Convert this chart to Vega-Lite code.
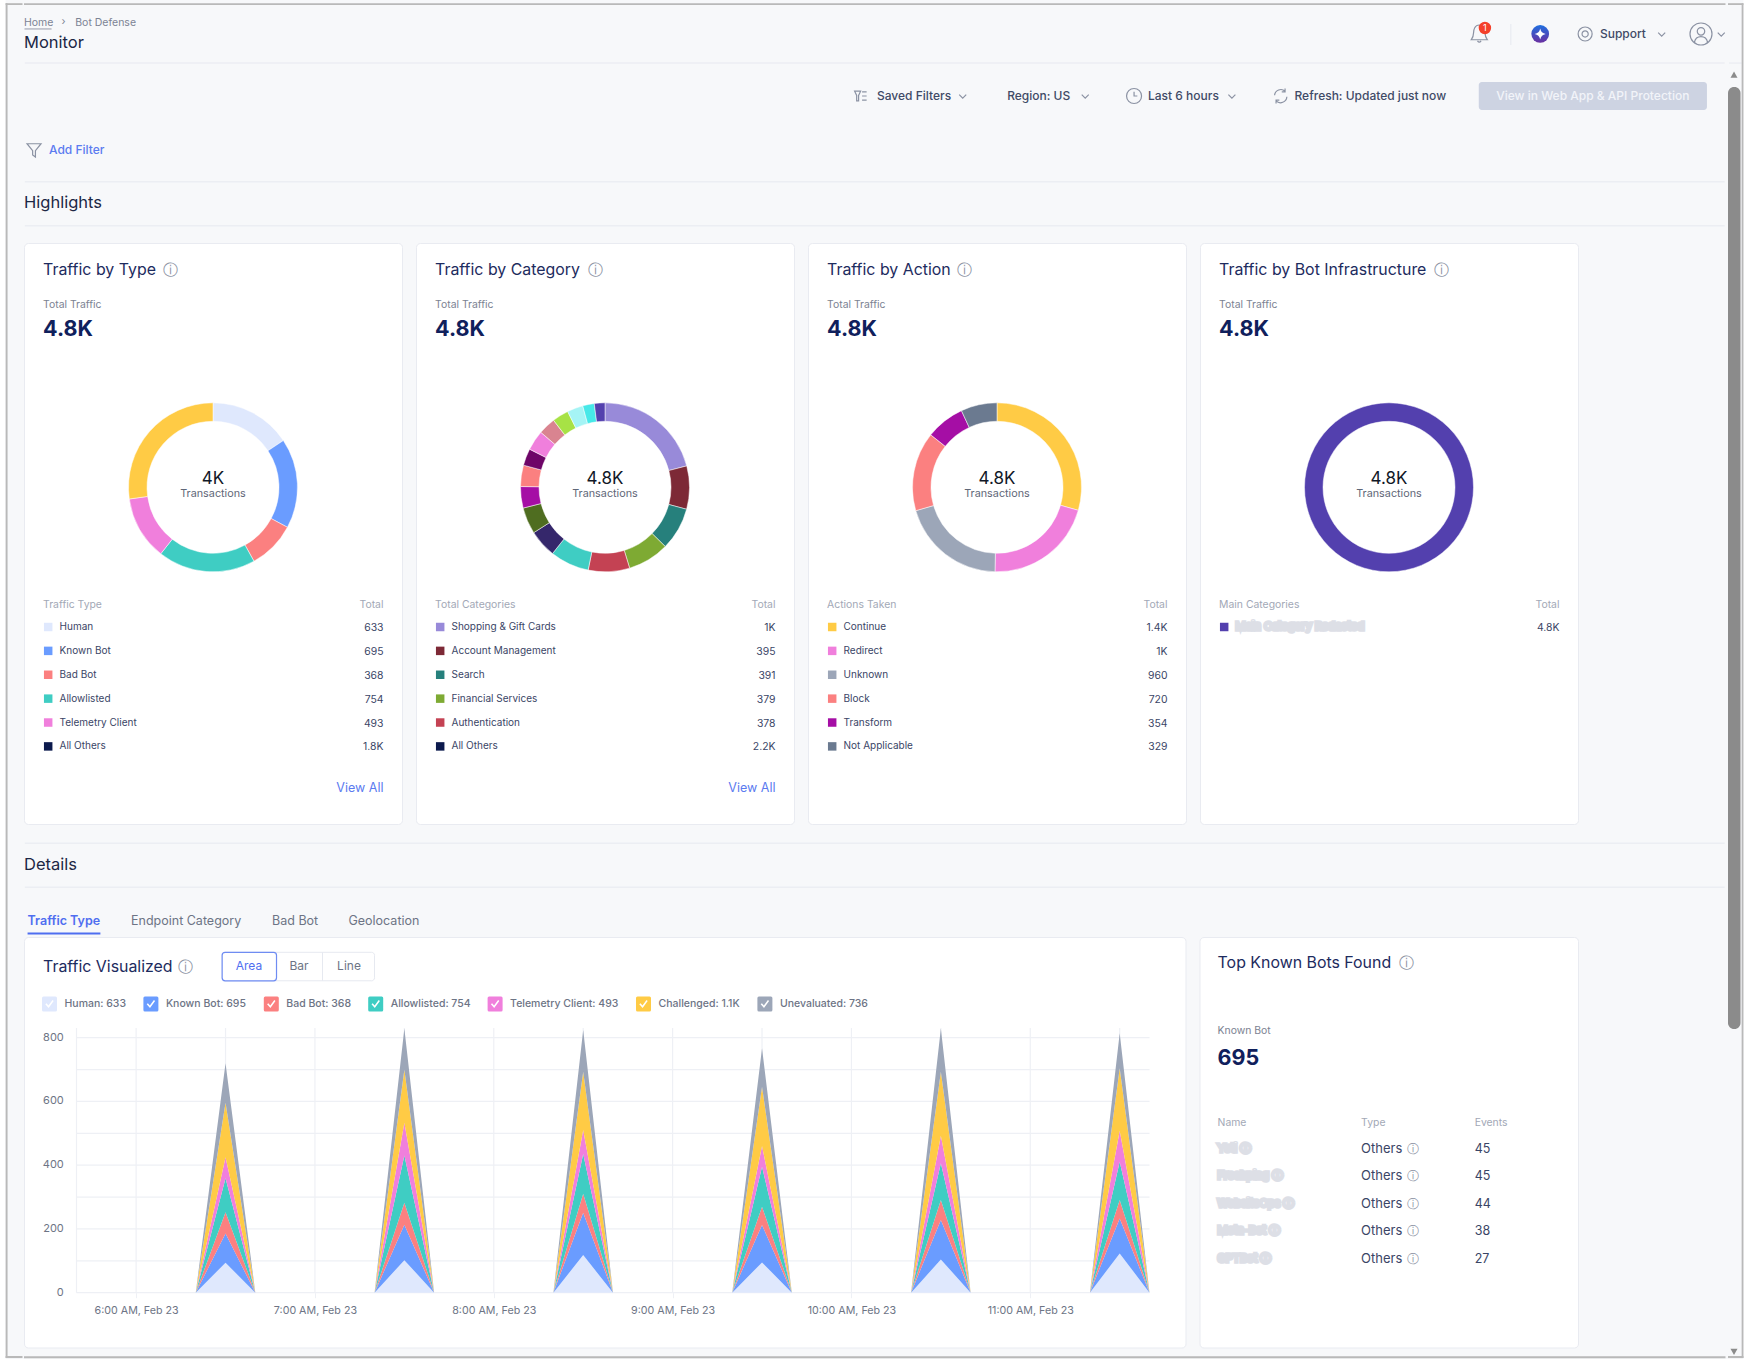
{
"$schema":"https://vega.github.io/schema/vega-lite/v6.json",
"background":"#f7f8fa","padding":0,"autosize":{"type":"pad"},
"datasets":{
"one":[{"page":"Bot Defense Monitor"}],
"cards":[
{"card":"Traffic by Type","part":"head","count":"4.8K","center":"4K","group":"Traffic Type","more":"View All"},
{"card":"Traffic by Category","part":"head","count":"4.8K","center":"4.8K","group":"Total Categories","more":"View All"},
{"card":"Traffic by Action","part":"head","count":"4.8K","center":"4.8K","group":"Actions Taken","more":""},
{"card":"Traffic by Bot Infrastructure","part":"head","count":"4.8K","center":"4.8K","group":"Main Categories","more":""},
{"card":"Traffic by Type","part":"slice","name":"Human","value":633,"k":1},
{"card":"Traffic by Type","part":"slice","name":"Known Bot","value":695,"k":2},
{"card":"Traffic by Type","part":"slice","name":"Bad Bot","value":368,"k":3},
{"card":"Traffic by Type","part":"slice","name":"Allowlisted","value":754,"k":4},
{"card":"Traffic by Type","part":"slice","name":"Telemetry Client","value":493,"k":5},
{"card":"Traffic by Type","part":"slice","name":"Challenged","value":1100,"k":6},
{"card":"Traffic by Category","part":"slice","name":"Shopping & Gift Cards","value":1000,"k":1},
{"card":"Traffic by Category","part":"slice","name":"Account Management","value":395,"k":2},
{"card":"Traffic by Category","part":"slice","name":"Search","value":391,"k":3},
{"card":"Traffic by Category","part":"slice","name":"Financial Services","value":379,"k":4},
{"card":"Traffic by Category","part":"slice","name":"Authentication","value":378,"k":5},
{"card":"Traffic by Category","part":"slice","name":"Category 6","value":357,"k":6},
{"card":"Traffic by Category","part":"slice","name":"Category 7","value":254,"k":7},
{"card":"Traffic by Category","part":"slice","name":"Category 8","value":242,"k":8},
{"card":"Traffic by Category","part":"slice","name":"Category 9","value":196,"k":9},
{"card":"Traffic by Category","part":"slice","name":"Category 10","value":195,"k":10},
{"card":"Traffic by Category","part":"slice","name":"Category 11","value":154,"k":11},
{"card":"Traffic by Category","part":"slice","name":"Category 12","value":183,"k":12},
{"card":"Traffic by Category","part":"slice","name":"Category 13","value":158,"k":13},
{"card":"Traffic by Category","part":"slice","name":"Category 14","value":150,"k":14},
{"card":"Traffic by Category","part":"slice","name":"Category 15","value":145,"k":15},
{"card":"Traffic by Category","part":"slice","name":"Category 16","value":106,"k":16},
{"card":"Traffic by Category","part":"slice","name":"Category 17","value":97,"k":17},
{"card":"Traffic by Action","part":"slice","name":"Continue","value":1400,"k":1},
{"card":"Traffic by Action","part":"slice","name":"Redirect","value":1000,"k":2},
{"card":"Traffic by Action","part":"slice","name":"Unknown","value":960,"k":3},
{"card":"Traffic by Action","part":"slice","name":"Block","value":720,"k":4},
{"card":"Traffic by Action","part":"slice","name":"Transform","value":354,"k":5},
{"card":"Traffic by Action","part":"slice","name":"Not Applicable","value":329,"k":6},
{"card":"Traffic by Bot Infrastructure","part":"slice","name":"Main Category Redacted","value":4800,"k":1},
{"card":"Traffic by Type","part":"row","name":"Human","total":"633","rank":1},
{"card":"Traffic by Type","part":"row","name":"Known Bot","total":"695","rank":2},
{"card":"Traffic by Type","part":"row","name":"Bad Bot","total":"368","rank":3},
{"card":"Traffic by Type","part":"row","name":"Allowlisted","total":"754","rank":4},
{"card":"Traffic by Type","part":"row","name":"Telemetry Client","total":"493","rank":5},
{"card":"Traffic by Type","part":"row","name":"All Others","total":"1.8K","rank":6},
{"card":"Traffic by Category","part":"row","name":"Shopping & Gift Cards","total":"1K","rank":1},
{"card":"Traffic by Category","part":"row","name":"Account Management","total":"395","rank":2},
{"card":"Traffic by Category","part":"row","name":"Search","total":"391","rank":3},
{"card":"Traffic by Category","part":"row","name":"Financial Services","total":"379","rank":4},
{"card":"Traffic by Category","part":"row","name":"Authentication","total":"378","rank":5},
{"card":"Traffic by Category","part":"row","name":"All Others","total":"2.2K","rank":6},
{"card":"Traffic by Action","part":"row","name":"Continue","total":"1.4K","rank":1},
{"card":"Traffic by Action","part":"row","name":"Redirect","total":"1K","rank":2},
{"card":"Traffic by Action","part":"row","name":"Unknown","total":"960","rank":3},
{"card":"Traffic by Action","part":"row","name":"Block","total":"720","rank":4},
{"card":"Traffic by Action","part":"row","name":"Transform","total":"354","rank":5},
{"card":"Traffic by Action","part":"row","name":"Not Applicable","total":"329","rank":6},
{"card":"Traffic by Bot Infrastructure","part":"row","name":"Main Category Redacted","total":"4.8K","rank":1}
],
"traffic":[
{"t":"2024-02-23T06:20:00","s":"Human","k":1,"v":0},{"t":"2024-02-23T06:30:00","s":"Human","k":1,"v":94},{"t":"2024-02-23T06:40:00","s":"Human","k":1,"v":0},
{"t":"2024-02-23T07:20:00","s":"Human","k":1,"v":0},{"t":"2024-02-23T07:30:00","s":"Human","k":1,"v":102},{"t":"2024-02-23T07:40:00","s":"Human","k":1,"v":0},
{"t":"2024-02-23T08:20:00","s":"Human","k":1,"v":0},{"t":"2024-02-23T08:30:00","s":"Human","k":1,"v":118},{"t":"2024-02-23T08:40:00","s":"Human","k":1,"v":0},
{"t":"2024-02-23T09:20:00","s":"Human","k":1,"v":0},{"t":"2024-02-23T09:30:00","s":"Human","k":1,"v":95},{"t":"2024-02-23T09:40:00","s":"Human","k":1,"v":0},
{"t":"2024-02-23T10:20:00","s":"Human","k":1,"v":0},{"t":"2024-02-23T10:30:00","s":"Human","k":1,"v":104},{"t":"2024-02-23T10:40:00","s":"Human","k":1,"v":0},
{"t":"2024-02-23T11:20:00","s":"Human","k":1,"v":0},{"t":"2024-02-23T11:30:00","s":"Human","k":1,"v":123},{"t":"2024-02-23T11:40:00","s":"Human","k":1,"v":0},
{"t":"2024-02-23T06:20:00","s":"Known Bot","k":2,"v":0},{"t":"2024-02-23T06:30:00","s":"Known Bot","k":2,"v":92},{"t":"2024-02-23T06:40:00","s":"Known Bot","k":2,"v":0},
{"t":"2024-02-23T07:20:00","s":"Known Bot","k":2,"v":0},{"t":"2024-02-23T07:30:00","s":"Known Bot","k":2,"v":111},{"t":"2024-02-23T07:40:00","s":"Known Bot","k":2,"v":0},
{"t":"2024-02-23T08:20:00","s":"Known Bot","k":2,"v":0},{"t":"2024-02-23T08:30:00","s":"Known Bot","k":2,"v":133},{"t":"2024-02-23T08:40:00","s":"Known Bot","k":2,"v":0},
{"t":"2024-02-23T09:20:00","s":"Known Bot","k":2,"v":0},{"t":"2024-02-23T09:30:00","s":"Known Bot","k":2,"v":117},{"t":"2024-02-23T09:40:00","s":"Known Bot","k":2,"v":0},
{"t":"2024-02-23T10:20:00","s":"Known Bot","k":2,"v":0},{"t":"2024-02-23T10:30:00","s":"Known Bot","k":2,"v":124},{"t":"2024-02-23T10:40:00","s":"Known Bot","k":2,"v":0},
{"t":"2024-02-23T11:20:00","s":"Known Bot","k":2,"v":0},{"t":"2024-02-23T11:30:00","s":"Known Bot","k":2,"v":110},{"t":"2024-02-23T11:40:00","s":"Known Bot","k":2,"v":0},
{"t":"2024-02-23T06:20:00","s":"Bad Bot","k":3,"v":0},{"t":"2024-02-23T06:30:00","s":"Bad Bot","k":3,"v":66},{"t":"2024-02-23T06:40:00","s":"Bad Bot","k":3,"v":0},
{"t":"2024-02-23T07:20:00","s":"Bad Bot","k":3,"v":0},{"t":"2024-02-23T07:30:00","s":"Bad Bot","k":3,"v":69},{"t":"2024-02-23T07:40:00","s":"Bad Bot","k":3,"v":0},
{"t":"2024-02-23T08:20:00","s":"Bad Bot","k":3,"v":0},{"t":"2024-02-23T08:30:00","s":"Bad Bot","k":3,"v":59},{"t":"2024-02-23T08:40:00","s":"Bad Bot","k":3,"v":0},
{"t":"2024-02-23T09:20:00","s":"Bad Bot","k":3,"v":0},{"t":"2024-02-23T09:30:00","s":"Bad Bot","k":3,"v":58},{"t":"2024-02-23T09:40:00","s":"Bad Bot","k":3,"v":0},
{"t":"2024-02-23T10:20:00","s":"Bad Bot","k":3,"v":0},{"t":"2024-02-23T10:30:00","s":"Bad Bot","k":3,"v":63},{"t":"2024-02-23T10:40:00","s":"Bad Bot","k":3,"v":0},
{"t":"2024-02-23T11:20:00","s":"Bad Bot","k":3,"v":0},{"t":"2024-02-23T11:30:00","s":"Bad Bot","k":3,"v":58},{"t":"2024-02-23T11:40:00","s":"Bad Bot","k":3,"v":0},
{"t":"2024-02-23T06:20:00","s":"Allowlisted","k":4,"v":0},{"t":"2024-02-23T06:30:00","s":"Allowlisted","k":4,"v":107},{"t":"2024-02-23T06:40:00","s":"Allowlisted","k":4,"v":0},
{"t":"2024-02-23T07:20:00","s":"Allowlisted","k":4,"v":0},{"t":"2024-02-23T07:30:00","s":"Allowlisted","k":4,"v":148},{"t":"2024-02-23T07:40:00","s":"Allowlisted","k":4,"v":0},
{"t":"2024-02-23T08:20:00","s":"Allowlisted","k":4,"v":0},{"t":"2024-02-23T08:30:00","s":"Allowlisted","k":4,"v":125},{"t":"2024-02-23T08:40:00","s":"Allowlisted","k":4,"v":0},
{"t":"2024-02-23T09:20:00","s":"Allowlisted","k":4,"v":0},{"t":"2024-02-23T09:30:00","s":"Allowlisted","k":4,"v":125},{"t":"2024-02-23T09:40:00","s":"Allowlisted","k":4,"v":0},
{"t":"2024-02-23T10:20:00","s":"Allowlisted","k":4,"v":0},{"t":"2024-02-23T10:30:00","s":"Allowlisted","k":4,"v":115},{"t":"2024-02-23T10:40:00","s":"Allowlisted","k":4,"v":0},
{"t":"2024-02-23T11:20:00","s":"Allowlisted","k":4,"v":0},{"t":"2024-02-23T11:30:00","s":"Allowlisted","k":4,"v":120},{"t":"2024-02-23T11:40:00","s":"Allowlisted","k":4,"v":0},
{"t":"2024-02-23T06:20:00","s":"Telemetry Client","k":5,"v":0},{"t":"2024-02-23T06:30:00","s":"Telemetry Client","k":5,"v":66},{"t":"2024-02-23T06:40:00","s":"Telemetry Client","k":5,"v":0},
{"t":"2024-02-23T07:20:00","s":"Telemetry Client","k":5,"v":0},{"t":"2024-02-23T07:30:00","s":"Telemetry Client","k":5,"v":103},{"t":"2024-02-23T07:40:00","s":"Telemetry Client","k":5,"v":0},
{"t":"2024-02-23T08:20:00","s":"Telemetry Client","k":5,"v":0},{"t":"2024-02-23T08:30:00","s":"Telemetry Client","k":5,"v":75},{"t":"2024-02-23T08:40:00","s":"Telemetry Client","k":5,"v":0},
{"t":"2024-02-23T09:20:00","s":"Telemetry Client","k":5,"v":0},{"t":"2024-02-23T09:30:00","s":"Telemetry Client","k":5,"v":65},{"t":"2024-02-23T09:40:00","s":"Telemetry Client","k":5,"v":0},
{"t":"2024-02-23T10:20:00","s":"Telemetry Client","k":5,"v":0},{"t":"2024-02-23T10:30:00","s":"Telemetry Client","k":5,"v":86},{"t":"2024-02-23T10:40:00","s":"Telemetry Client","k":5,"v":0},
{"t":"2024-02-23T11:20:00","s":"Telemetry Client","k":5,"v":0},{"t":"2024-02-23T11:30:00","s":"Telemetry Client","k":5,"v":97},{"t":"2024-02-23T11:40:00","s":"Telemetry Client","k":5,"v":0},
{"t":"2024-02-23T06:20:00","s":"Challenged","k":6,"v":0},{"t":"2024-02-23T06:30:00","s":"Challenged","k":6,"v":171},{"t":"2024-02-23T06:40:00","s":"Challenged","k":6,"v":0},
{"t":"2024-02-23T07:20:00","s":"Challenged","k":6,"v":0},{"t":"2024-02-23T07:30:00","s":"Challenged","k":6,"v":166},{"t":"2024-02-23T07:40:00","s":"Challenged","k":6,"v":0},
{"t":"2024-02-23T08:20:00","s":"Challenged","k":6,"v":0},{"t":"2024-02-23T08:30:00","s":"Challenged","k":6,"v":183},{"t":"2024-02-23T08:40:00","s":"Challenged","k":6,"v":0},
{"t":"2024-02-23T09:20:00","s":"Challenged","k":6,"v":0},{"t":"2024-02-23T09:30:00","s":"Challenged","k":6,"v":186},{"t":"2024-02-23T09:40:00","s":"Challenged","k":6,"v":0},
{"t":"2024-02-23T10:20:00","s":"Challenged","k":6,"v":0},{"t":"2024-02-23T10:30:00","s":"Challenged","k":6,"v":201},{"t":"2024-02-23T10:40:00","s":"Challenged","k":6,"v":0},
{"t":"2024-02-23T11:20:00","s":"Challenged","k":6,"v":0},{"t":"2024-02-23T11:30:00","s":"Challenged","k":6,"v":196},{"t":"2024-02-23T11:40:00","s":"Challenged","k":6,"v":0},
{"t":"2024-02-23T06:20:00","s":"Unevaluated","k":7,"v":0},{"t":"2024-02-23T06:30:00","s":"Unevaluated","k":7,"v":124},{"t":"2024-02-23T06:40:00","s":"Unevaluated","k":7,"v":0},
{"t":"2024-02-23T07:20:00","s":"Unevaluated","k":7,"v":0},{"t":"2024-02-23T07:30:00","s":"Unevaluated","k":7,"v":130},{"t":"2024-02-23T07:40:00","s":"Unevaluated","k":7,"v":0},
{"t":"2024-02-23T08:20:00","s":"Unevaluated","k":7,"v":0},{"t":"2024-02-23T08:30:00","s":"Unevaluated","k":7,"v":131},{"t":"2024-02-23T08:40:00","s":"Unevaluated","k":7,"v":0},
{"t":"2024-02-23T09:20:00","s":"Unevaluated","k":7,"v":0},{"t":"2024-02-23T09:30:00","s":"Unevaluated","k":7,"v":121},{"t":"2024-02-23T09:40:00","s":"Unevaluated","k":7,"v":0},
{"t":"2024-02-23T10:20:00","s":"Unevaluated","k":7,"v":0},{"t":"2024-02-23T10:30:00","s":"Unevaluated","k":7,"v":136},{"t":"2024-02-23T10:40:00","s":"Unevaluated","k":7,"v":0},
{"t":"2024-02-23T11:20:00","s":"Unevaluated","k":7,"v":0},{"t":"2024-02-23T11:30:00","s":"Unevaluated","k":7,"v":110},{"t":"2024-02-23T11:40:00","s":"Unevaluated","k":7,"v":0}
],
"gridY":[{"g":0},{"g":100},{"g":200},{"g":300},{"g":400},{"g":500},{"g":600},{"g":700},{"g":800}],
"gridX":[{"t":"2024-02-23T05:40:00"},{"t":"2024-02-23T06:00:00"},{"t":"2024-02-23T06:30:00"},{"t":"2024-02-23T07:00:00"},{"t":"2024-02-23T07:30:00"},{"t":"2024-02-23T08:00:00"},{"t":"2024-02-23T08:30:00"},{"t":"2024-02-23T09:00:00"},{"t":"2024-02-23T09:30:00"},{"t":"2024-02-23T10:00:00"},{"t":"2024-02-23T10:30:00"},{"t":"2024-02-23T11:00:00"},{"t":"2024-02-23T11:30:00"}],
"bots":[
{"name":"Yeti","type":"Others","events":45,"rank":1},
{"name":"Freshping","type":"Others","events":45,"rank":2},
{"name":"WebsiteOps","type":"Others","events":44,"rank":3},
{"name":"Meta-Bot","type":"Others","events":38,"rank":4},
{"name":"GPTBot","type":"Others","events":27,"rank":5}
]
},
"spacing":0,
"hconcat":[
{"width":22.5,"height":1359,"data":{"name":"one"},"layer":[
{"mark":{"type":"rect","fill":"#ffffff"},"encoding":{"x":{"datum":0,"scale":{"domain":[0,100]}},"x2":{"datum":25},"y":{"datum":0,"scale":{"domain":[0,100],"reverse":true}},"y2":{"datum":100}}},
{"mark":{"type":"rect","fill":"#b9b9b9"},"encoding":{"x":{"datum":25},"x2":{"datum":33.6},"y":{"datum":0.235},"y2":{"datum":99.93}}},
{"mark":{"type":"rect","fill":"#b9b9b9"},"encoding":{"x":{"datum":25},"x2":{"datum":100},"y":{"datum":0.235},"y2":{"datum":0.37}}},
{"mark":{"type":"rect","fill":"#b9b9b9"},"encoding":{"x":{"datum":25},"x2":{"datum":100},"y":{"datum":99.78},"y2":{"datum":99.93}}}
]},
{"spacing":0,"vconcat":[
{"width":1701.5,"height":242,"data":{"name":"one"},"layer":[
{"mark":{"type":"rect","fill":"#b9b9b9"},"encoding":{"x":{"datum":0,"scale":{"domain":[0,100]}},"x2":{"datum":100},"y":{"datum":1.32,"scale":{"domain":[0,100],"reverse":true}},"y2":{"datum":2.06}}},
{"mark":{"type":"text","text":"Home","style":"crumb"},"encoding":{"x":{"datum":0},"y":{"datum":9.36}}},
{"mark":{"type":"rule","color":"#7c8394","strokeWidth":0.8},"encoding":{"x":{"datum":0.03},"x2":{"datum":1.62},"y":{"datum":11.97}}},
{"mark":{"type":"text","text":"›","style":"crumb"},"encoding":{"x":{"datum":2.2},"y":{"datum":9.16}}},
{"mark":{"type":"text","text":"Bot Defense","style":"crumb"},"encoding":{"x":{"datum":3.01},"y":{"datum":9.36}}},
{"mark":{"type":"text","text":"Monitor","style":"head"},"encoding":{"x":{"datum":0},"y":{"datum":17.72}}},
{"mark":{"type":"rule","style":"line"},"encoding":{"x":{"datum":0.05},"x2":{"datum":99.95},"y":{"datum":26}}},
{"mark":{"type":"point","shape":"M0-.5C-.25-.5-.32-.25-.32-.05C-.32 .15-.4 .25-.45 .32H.45C.4 .25 .32 .15 .32-.05C.32-.25 .25-.5 0-.5ZM-.1 .38Q0 .52 .1 .38","size":1296,"filled":false,"style":"icon"},"encoding":{"x":{"datum":85.53},"y":{"datum":14.04}}},
{"mark":{"type":"point","shape":"circle","size":154,"filled":true,"fill":"#f4402a"},"encoding":{"x":{"datum":85.86},"y":{"datum":11.57}}},
{"mark":{"type":"text","text":"1","fontSize":9,"fill":"#ffffff","align":"center"},"encoding":{"x":{"datum":85.86},"y":{"datum":11.57}}},
{"mark":{"type":"rule","style":"line"},"encoding":{"x":{"datum":87.38},"y":{"datum":9.92},"y2":{"datum":18.6}}},
{"mark":{"type":"point","shape":"circle","size":314,"filled":true,"fill":{"gradient":"linear","x1":0,"y1":0,"x2":0,"y2":1,"stops":[{"offset":0,"color":"#1f6fe0"},{"offset":1,"color":"#6a2fa0"}]}},"encoding":{"x":{"datum":89.11},"y":{"datum":14.04}}},
{"mark":{"type":"point","shape":"M0-.5Q.08-.08 .5 0Q.08 .08 0 .5Q-.08 .08-.5 0Q-.08-.08 0-.5Z","size":484,"filled":true,"fill":"#ffffff"},"encoding":{"x":{"datum":89.11},"y":{"datum":14.04}}},
{"mark":{"type":"point","shape":"M-.5 0A.5 .5 0 1 1 .5 0A.5 .5 0 1 1-.5 0ZM-.22 0A.22 .22 0 1 1 .22 0A.22 .22 0 1 1-.22 0Z","size":784,"filled":false,"style":"icon"},"encoding":{"x":{"datum":91.75},"y":{"datum":14.04}}},
{"mark":{"type":"text","text":"Support","style":"filt"},"encoding":{"x":{"datum":92.62},"y":{"datum":14.04}}},
{"mark":{"type":"point","shape":"M-1-.5L0 .5L1-.5","size":49,"filled":false,"style":"icon"},"encoding":{"x":{"datum":96.25},"y":{"datum":14.2}}},
{"mark":{"type":"point","shape":"M-.5 0A.5 .5 0 1 1 .5 0A.5 .5 0 1 1-.5 0ZM-.17-.12A.17 .17 0 1 1 .17-.12A.17 .17 0 1 1-.17-.12ZM-.3 .38Q-.25 .12 0 .12Q.25 .12 .3 .38","size":1936,"filled":false,"style":"icon"},"encoding":{"x":{"datum":98.56},"y":{"datum":14.04}}},
{"mark":{"type":"point","shape":"M-1-.5L0 .5L1-.5","size":49,"filled":false,"style":"icon"},"encoding":{"x":{"datum":99.75},"y":{"datum":14.2}}},
{"mark":{"type":"point","shape":"M-.5-.4H0L-.17-.05V.4H-.33V-.05ZM.12-.35H.5M.12 0H.5M.12 .35H.5","size":576,"filled":false,"style":"icon"},"encoding":{"x":{"datum":49.17},"y":{"datum":39.67}}},
{"mark":{"type":"text","text":"Saved Filters","style":"filt"},"encoding":{"x":{"datum":50.13},"y":{"datum":39.67}}},
{"mark":{"type":"point","shape":"M-1-.5L0 .5L1-.5","size":49,"filled":false,"style":"icon"},"encoding":{"x":{"datum":55.17},"y":{"datum":39.83}}},
{"mark":{"type":"text","text":"Region: US","style":"filt"},"encoding":{"x":{"datum":57.78},"y":{"datum":39.67}}},
{"mark":{"type":"point","shape":"M-1-.5L0 .5L1-.5","size":49,"filled":false,"style":"icon"},"encoding":{"x":{"datum":62.37},"y":{"datum":39.83}}},
{"mark":{"type":"point","shape":"M-.5 0A.5 .5 0 1 1 .5 0A.5 .5 0 1 1-.5 0ZM0-.28V0H.22","size":900,"filled":false,"style":"icon"},"encoding":{"x":{"datum":65.24},"y":{"datum":39.67}}},
{"mark":{"type":"text","text":"Last 6 hours","style":"filt"},"encoding":{"x":{"datum":66.06},"y":{"datum":39.67}}},
{"mark":{"type":"point","shape":"M-1-.5L0 .5L1-.5","size":49,"filled":false,"style":"icon"},"encoding":{"x":{"datum":70.99},"y":{"datum":39.83}}},
{"mark":{"type":"point","shape":"M-.4-.05A.42 .42 0 0 1 .3-.32M.42 .05A.42 .42 0 0 1-.3 .32M.3-.5V-.28H.08M-.3 .5V.28H-.08","size":900,"filled":false,"style":"icon"},"encoding":{"x":{"datum":73.85},"y":{"datum":39.67}}},
{"mark":{"type":"text","text":"Refresh: Updated just now","style":"filt"},"encoding":{"x":{"datum":74.67},"y":{"datum":39.67}}},
{"mark":{"type":"rect","fill":"#cdd3e2","cornerRadius":3},"encoding":{"x":{"datum":85.5},"x2":{"datum":98.91},"y":{"datum":33.88},"y2":{"datum":45.45}}},
{"mark":{"type":"text","text":"View in Web App & API Protection","fontSize":12,"fontWeight":500,"fill":"#f2f4f9","align":"center"},"encoding":{"x":{"datum":92.2},"y":{"datum":39.67}}},
{"mark":{"type":"point","shape":"M-.5-.45H.5L.1 .05V.5L-.1 .35V.05Z","size":784,"filled":false,"style":"icon"},"encoding":{"x":{"datum":0.59},"y":{"datum":62}}},
{"mark":{"type":"text","text":"Add Filter","fontSize":12,"fontWeight":500,"fill":"#5b7bf0"},"encoding":{"x":{"datum":1.47},"y":{"datum":62}}},
{"mark":{"type":"rule","style":"line"},"encoding":{"x":{"datum":0.05},"x2":{"datum":99.95},"y":{"datum":75.08}}},
{"mark":{"type":"text","text":"Highlights","style":"head"},"encoding":{"x":{"datum":0},"y":{"datum":83.9}}},
{"mark":{"type":"rule","style":"line"},"encoding":{"x":{"datum":0.05},"x2":{"datum":99.95},"y":{"datum":93.26}}}
]},
{"data":{"name":"cards"},"spacing":12,
"facet":{"column":{"field":"card","sort":["Traffic by Type","Traffic by Category","Traffic by Action","Traffic by Bot Infrastructure"],"header":null}},
"spec":{"width":378,"height":581,"view":{"fill":"#ffffff","stroke":"#e9ebf1","cornerRadius":4},
"layer":[
{"layer":[
{"transform":[{"filter":"datum.part=='slice'"}],"mark":{"type":"arc","innerRadius":66,"outerRadius":84.5,"stroke":"#ffffff","strokeWidth":0.5},"encoding":{"x":{"datum":50,"scale":{"domain":[0,100]}},"y":{"datum":42.05,"scale":{"domain":[0,100],"reverse":true}},"theta":{"field":"value","type":"quantitative","stack":"normalize","scale":{"domain":[0,1]}},"order":{"field":"k","type":"quantitative"},"color":{"field":"name","type":"nominal","legend":null,"scale":{
"domain":["Human","Known Bot","Bad Bot","Allowlisted","Telemetry Client","Challenged","All Others","Shopping & Gift Cards","Account Management","Search","Financial Services","Authentication","Category 6","Category 7","Category 8","Category 9","Category 10","Category 11","Category 12","Category 13","Category 14","Category 15","Category 16","Category 17","Continue","Redirect","Unknown","Block","Transform","Not Applicable","Main Category Redacted"],
"range":["#dfe8fd","#6a9cff","#fb8080","#3fcdc3","#f07fdc","#ffcb45","#0c1a4d","#988ad9","#7d2936","#26807c","#7eaa33","#c44253","#3fcdc3","#35276b","#4f6d20","#a50ea5","#fb8080","#6e0568","#f07fdc","#d98490","#a7e245","#a5f4f5","#47e8e8","#5340ae","#ffcb45","#f07fdc","#9ca6b8","#fb8080","#a50ea5","#6b7a90","#5340ae"]}}}},
{"transform":[{"filter":"datum.part=='head'"}],"layer":[
{"mark":{"type":"text","style":"title"},"encoding":{"x":{"datum":5.05},"y":{"datum":4.65},"text":{"field":"card"}}},
{"mark":{"type":"text","text":"Total Traffic","style":"small"},"encoding":{"x":{"datum":5.05},"y":{"datum":10.6}}},
{"mark":{"type":"text","style":"big"},"encoding":{"x":{"datum":5.05},"y":{"datum":15.05},"text":{"field":"count"}}},
{"mark":{"type":"text","fontSize":17,"fill":"#111827","align":"center"},"encoding":{"x":{"datum":50},"y":{"datum":40.55},"text":{"field":"center"}}},
{"mark":{"type":"text","text":"Transactions","fontSize":10.8,"fill":"#5f6778","align":"center"},"encoding":{"x":{"datum":50},"y":{"datum":43.25}}},
{"mark":{"type":"text","style":"muted"},"encoding":{"x":{"datum":5.05},"y":{"datum":62.25},"text":{"field":"group"}}},
{"mark":{"type":"text","text":"Total","style":"muted","align":"right"},"encoding":{"x":{"datum":95.1},"y":{"datum":62.25}}},
{"mark":{"type":"text","fontSize":12.5,"fill":"#5b7bf0","align":"right"},"encoding":{"x":{"datum":95.1},"y":{"datum":93.85},"text":{"field":"more"}}}
]},
{"transform":[{"filter":"datum.part=='head' && datum.card=='Traffic by Type'"}],"mark":{"type":"text","text":"ⓘ","style":"info"},"encoding":{"x":{"datum":36.9},"y":{"datum":4.65}}},
{"transform":[{"filter":"datum.part=='head' && datum.card=='Traffic by Category'"}],"mark":{"type":"text","text":"ⓘ","style":"info"},"encoding":{"x":{"datum":45.4},"y":{"datum":4.65}}},
{"transform":[{"filter":"datum.part=='head' && datum.card=='Traffic by Action'"}],"mark":{"type":"text","text":"ⓘ","style":"info"},"encoding":{"x":{"datum":39.5},"y":{"datum":4.65}}},
{"transform":[{"filter":"datum.part=='head' && datum.card=='Traffic by Bot Infrastructure'"}],"mark":{"type":"text","text":"ⓘ","style":"info"},"encoding":{"x":{"datum":61.9},"y":{"datum":4.65}}}
]},
{"transform":[{"filter":"datum.part=='row'"}],
"encoding":{"y":{"field":"rank","type":"quantitative","scale":{"domain":[1,6],"range":[384,503.4],"nice":false,"zero":false}}},
"layer":[
{"mark":{"type":"square","size":72},"encoding":{"x":{"datum":6.4},"color":{"field":"name","type":"nominal","legend":null}}},
{"transform":[{"filter":"datum.card!='Traffic by Bot Infrastructure'"}],"mark":{"type":"text","style":"tbl"},"encoding":{"x":{"datum":9.4},"text":{"field":"name"}}},
{"transform":[{"filter":"datum.card=='Traffic by Bot Infrastructure'"}],"mark":{"type":"text","style":"blur"},"encoding":{"x":{"datum":9.4},"text":{"field":"name"}}},
{"mark":{"type":"text","style":"tbl","fontSize":10.4,"align":"right","dy":1},"encoding":{"x":{"datum":95.1},"text":{"field":"total"}}}
]}
],
"resolve":{"scale":{"y":"independent"}}}
},
{"width":1701.5,"height":110.5,"data":{"name":"one"},"layer":[
{"mark":{"type":"rule","style":"line"},"encoding":{"x":{"datum":0.05,"scale":{"domain":[0,100]}},"x2":{"datum":99.95},"y":{"datum":16.6,"scale":{"domain":[0,100],"reverse":true}}}},
{"mark":{"type":"text","text":"Details","style":"head"},"encoding":{"x":{"datum":0},"y":{"datum":36.6}}},
{"mark":{"type":"rule","style":"line"},"encoding":{"x":{"datum":0.05},"x2":{"datum":99.95},"y":{"datum":56.3}}},
{"mark":{"type":"text","text":"Traffic Type","fontSize":12.5,"fontWeight":600,"fill":"#4f6ef0"},"encoding":{"x":{"datum":0.21},"y":{"datum":86.6}}},
{"mark":{"type":"rule","color":"#4f6ef0","strokeWidth":2},"encoding":{"x":{"datum":0.21},"x2":{"datum":4.49},"y":{"datum":98.3}}},
{"mark":{"type":"text","text":"Endpoint Category","style":"tab"},"encoding":{"x":{"datum":6.29},"y":{"datum":86.6}}},
{"mark":{"type":"text","text":"Bad Bot","style":"tab"},"encoding":{"x":{"datum":14.58},"y":{"datum":86.6}}},
{"mark":{"type":"text","text":"Geolocation","style":"tab"},"encoding":{"x":{"datum":19.07},"y":{"datum":86.6}}}
]},
{"spacing":12.5,"hconcat":[
{"width":1161.5,"height":410.5,"view":{"fill":"#ffffff","stroke":"#e9ebf1","cornerRadius":4},"data":{"name":"one"},
"layer":[
{"layer":[
{"mark":{"type":"text","text":"Traffic Visualized","style":"title"},"encoding":{"x":{"datum":1.64,"scale":{"domain":[0,100]}},"y":{"datum":7.27,"scale":{"domain":[0,100],"reverse":true}}}},
{"mark":{"type":"text","text":"ⓘ","style":"info"},"encoding":{"x":{"datum":13.3},"y":{"datum":7.27}}},
{"mark":{"type":"rect","fill":"#ffffff","stroke":"#e6e9f0","cornerRadius":3},"encoding":{"x":{"datum":17.06},"x2":{"datum":30.18},"y":{"datum":3.73},"y2":{"datum":10.67}}},
{"mark":{"type":"rule","color":"#e6e9f0"},"encoding":{"x":{"datum":25.7},"y":{"datum":3.73},"y2":{"datum":10.67}}},
{"mark":{"type":"rect","fill":"#ffffff","stroke":"#6f8cf2","strokeWidth":1.2,"cornerRadius":3},"encoding":{"x":{"datum":17.06},"x2":{"datum":21.74},"y":{"datum":3.73},"y2":{"datum":10.67}}},
{"mark":{"type":"text","text":"Area","fontSize":12,"fill":"#4f6ef0","align":"center"},"encoding":{"x":{"datum":19.37},"y":{"datum":7.1}}},
{"mark":{"type":"text","text":"Bar","fontSize":12,"fill":"#6d7485","align":"center"},"encoding":{"x":{"datum":23.68},"y":{"datum":7.1}}},
{"mark":{"type":"text","text":"Line","fontSize":12,"fill":"#6d7485","align":"center"},"encoding":{"x":{"datum":27.98},"y":{"datum":7.1}}}
]},
{"layer":[
{"data":{"name":"gridY"},"mark":{"type":"rule","color":"#eef0f5","strokeWidth":1.2},"encoding":{"x":{"datum":{"year":2024,"month":2,"date":23,"hours":5,"minutes":40},"type":"temporal","scale":{"domain":[{"year":2024,"month":2,"date":23,"hours":5,"minutes":40},{"year":2024,"month":2,"date":23,"hours":11,"minutes":40}],"range":[52.5,1125.5]}},"x2":{"datum":{"year":2024,"month":2,"date":23,"hours":11,"minutes":40}},"y":{"field":"g","type":"quantitative","scale":{"domain":[0,830],"range":[355.7,91.1],"nice":false}}}},
{"data":{"name":"gridY"},"transform":[{"filter":"datum.g % 200 == 0"}],"mark":{"type":"text","align":"right","dx":-12.7,"fontSize":11,"fill":"#6d7485"},"encoding":{"x":{"datum":{"year":2024,"month":2,"date":23,"hours":5,"minutes":40},"type":"temporal","scale":{"domain":[{"year":2024,"month":2,"date":23,"hours":5,"minutes":40},{"year":2024,"month":2,"date":23,"hours":11,"minutes":40}],"range":[52.5,1125.5]}},"y":{"field":"g","type":"quantitative","scale":{"domain":[0,830],"range":[355.7,91.1],"nice":false}},"text":{"field":"g","type":"quantitative"}}},
{"data":{"name":"gridX"},"mark":{"type":"rule","color":"#eef0f5","strokeWidth":1.2},"encoding":{"x":{"field":"t","type":"temporal","scale":{"domain":[{"year":2024,"month":2,"date":23,"hours":5,"minutes":40},{"year":2024,"month":2,"date":23,"hours":11,"minutes":40}],"range":[52.5,1125.5]},"axis":{"values":[{"year":2024,"month":2,"date":23,"hours":6},{"year":2024,"month":2,"date":23,"hours":7},{"year":2024,"month":2,"date":23,"hours":8},{"year":2024,"month":2,"date":23,"hours":9},{"year":2024,"month":2,"date":23,"hours":10},{"year":2024,"month":2,"date":23,"hours":11}],"format":"%-I:%M %p, %b %-d","offset":-54.8,"domain":false,"grid":false,"title":null,"ticks":true,"tickSize":5,"tickColor":"#eef0f5","labelPadding":8,"labelColor":"#6d7485","labelFontSize":10.7,"labelFont":"Inter","labelOverlap":false,"labelFlush":false}},"y":{"datum":0,"scale":{"domain":[0,830],"range":[355.7,91.1],"nice":false}},"y2":{"datum":830}}},
{"data":{"name":"traffic"},"mark":{"type":"area","interpolate":"linear"},"encoding":{"x":{"field":"t","type":"temporal","scale":{"domain":[{"year":2024,"month":2,"date":23,"hours":5,"minutes":40},{"year":2024,"month":2,"date":23,"hours":11,"minutes":40}],"range":[52.5,1125.5]}},"y":{"field":"v","type":"quantitative","stack":"zero","scale":{"domain":[0,830],"range":[355.7,91.1],"nice":false}},"order":{"field":"k","type":"quantitative"},"fill":{"field":"s","type":"nominal","scale":{"domain":["Human","Known Bot","Bad Bot","Allowlisted","Telemetry Client","Challenged","Unevaluated"],"range":["#dfe8fd","#6a9cff","#fb8080","#3fcdc3","#f07fdc","#ffcb45","#9ca6b8"]},"legend":{"title":null,"orient":"none","legendX":34.5,"legendY":989,"direction":"horizontal","columns":7,"gridAlign":"none","columnPadding":9.4,"padding":0,"labelExpr":"datum.label + ': ' + {'Human':'633','Known Bot':'695','Bad Bot':'368','Allowlisted':'754','Telemetry Client':'493','Challenged':'1.1K','Unevaluated':'736'}[datum.label]","symbolType":"M-.4-.5H.4Q.5-.5 .5-.4V.4Q.5 .5 .4 .5H-.4Q-.5 .5-.5 .4V-.4Q-.5-.5-.4-.5ZM-.28 .02L-.06 .26L.28-.2L.2-.26L-.07 .1L-.2-.05Z","symbolSize":900,"symbolStrokeWidth":0,"labelFont":"Inter","labelFontSize":10.5,"labelFontWeight":500,"labelColor":"#6d7485","labelOffset":0,"labelLimit":200}}}}
]}
],
"resolve":{"scale":{"x":"independent","y":"independent"}}},
{"width":378.5,"height":410.5,"view":{"fill":"#ffffff","stroke":"#e9ebf1","cornerRadius":4},"data":{"name":"one"},
"layer":[
{"layer":[
{"mark":{"type":"text","text":"Top Known Bots Found","style":"title"},"encoding":{"x":{"datum":4.78,"scale":{"domain":[0,100]}},"y":{"datum":6.4,"scale":{"domain":[0,100],"reverse":true}}}},
{"mark":{"type":"text","text":"ⓘ","style":"info"},"encoding":{"x":{"datum":52.7},"y":{"datum":6.4}}},
{"mark":{"type":"text","text":"Known Bot","style":"small"},"encoding":{"x":{"datum":4.78},"y":{"datum":22.9}}},
{"mark":{"type":"text","text":"695","style":"big"},"encoding":{"x":{"datum":4.78},"y":{"datum":29.6}}},
{"mark":{"type":"text","text":"Name","style":"muted"},"encoding":{"x":{"datum":4.78},"y":{"datum":45.4}}},
{"mark":{"type":"text","text":"Type","style":"muted"},"encoding":{"x":{"datum":42.7},"y":{"datum":45.4}}},
{"mark":{"type":"text","text":"Events","style":"muted"},"encoding":{"x":{"datum":72.7},"y":{"datum":45.4}}}
]},
{"data":{"name":"bots"},"encoding":{"y":{"field":"rank","type":"quantitative","scale":{"domain":[1,5],"range":[212,321.7],"nice":false,"zero":false}}},
"layer":[
{"transform":[{"calculate":"datum.name + '  ⓘ'","as":"blurred"}],"mark":{"type":"text","style":"blur"},"encoding":{"x":{"datum":4.78},"text":{"field":"blurred"}}},
{"mark":{"type":"text","style":"tbl","fontSize":13},"encoding":{"x":{"datum":42.7},"text":{"field":"type"}}},
{"mark":{"type":"text","text":"ⓘ","style":"info","fontSize":12},"encoding":{"x":{"datum":54.9}}},
{"mark":{"type":"text","style":"tbl","fontSize":12.5},"encoding":{"x":{"datum":72.7},"text":{"field":"events"}}}
]}
],
"resolve":{"scale":{"y":"independent"}}}
]},
{"width":1701.5,"height":11,"data":{"name":"one"},"layer":[
{"mark":{"type":"rect","fill":"#b9b9b9"},"encoding":{"x":{"datum":0,"scale":{"domain":[0,100]}},"x2":{"datum":100},"y":{"datum":75.5,"scale":{"domain":[0,100],"reverse":true}},"y2":{"datum":92.7}}}
]}
]},
{"width":21,"height":1359,"data":{"name":"one"},"layer":[
{"mark":{"type":"rect","fill":"#ffffff"},"encoding":{"x":{"datum":73.5,"scale":{"domain":[0,100]}},"x2":{"datum":100},"y":{"datum":0,"scale":{"domain":[0,100],"reverse":true}},"y2":{"datum":100}}},
{"mark":{"type":"rule","style":"line"},"encoding":{"x":{"datum":5},"x2":{"datum":65},"y":{"datum":4.64}}},
{"mark":{"type":"rect","fill":"#b9b9b9"},"encoding":{"x":{"datum":0},"x2":{"datum":73.5},"y":{"datum":0.235},"y2":{"datum":0.37}}},
{"mark":{"type":"rect","fill":"#b9b9b9"},"encoding":{"x":{"datum":0},"x2":{"datum":73.5},"y":{"datum":99.78},"y2":{"datum":99.93}}},
{"mark":{"type":"rect","fill":"#b9b9b9"},"encoding":{"x":{"datum":65},"x2":{"datum":73.5},"y":{"datum":0.235},"y2":{"datum":99.93}}},
{"mark":{"type":"point","shape":"M0-.5L.5 .4H-.5Z","size":196,"filled":true,"fill":"#8b8b8b"},"encoding":{"x":{"datum":28.6},"y":{"datum":5.52}}},
{"mark":{"type":"rect","fill":"#8b8b8b","cornerRadius":6},"encoding":{"x":{"datum":0},"x2":{"datum":59.5},"y":{"datum":6.4},"y2":{"datum":75.72}}},
{"mark":{"type":"point","shape":"M0 .5L.5-.4H-.5Z","size":196,"filled":true,"fill":"#8b8b8b"},"encoding":{"x":{"datum":28.6},"y":{"datum":99.45}}}
]}
],
"config":{
"font":"Inter",
"view":{"stroke":null},
"axisQuantitative":{"disable":true},
"text":{"align":"left","baseline":"middle"},
"point":{"opacity":1},
"square":{"opacity":1},
"style":{
"crumb":{"fontSize":10.5,"color":"#7c8394"},
"head":{"fontSize":16.5,"color":"#1c2745"},
"filt":{"fontSize":12,"fontWeight":500,"color":"#3f4a66"},
"tab":{"fontSize":12.5,"color":"#6d7485"},
"title":{"fontSize":15.9,"color":"#1d2b5e"},
"small":{"fontSize":10.4,"color":"#7b8292"},
"muted":{"fontSize":10.4,"color":"#a2a8b6"},
"big":{"fontSize":21.5,"fontWeight":700,"color":"#10205c"},
"tbl":{"fontSize":10,"color":"#3a4566"},
"info":{"fontSize":15,"color":"#8b92a3"},
"blur":{"fontSize":11,"color":"#b4b9ca","stroke":"#b4b9ca","strokeWidth":3.5,"opacity":0.45},
"line":{"color":"#eceef3","strokeWidth":1.5},
"icon":{"color":"#8b92a3","strokeWidth":1.2}
}
}
}
